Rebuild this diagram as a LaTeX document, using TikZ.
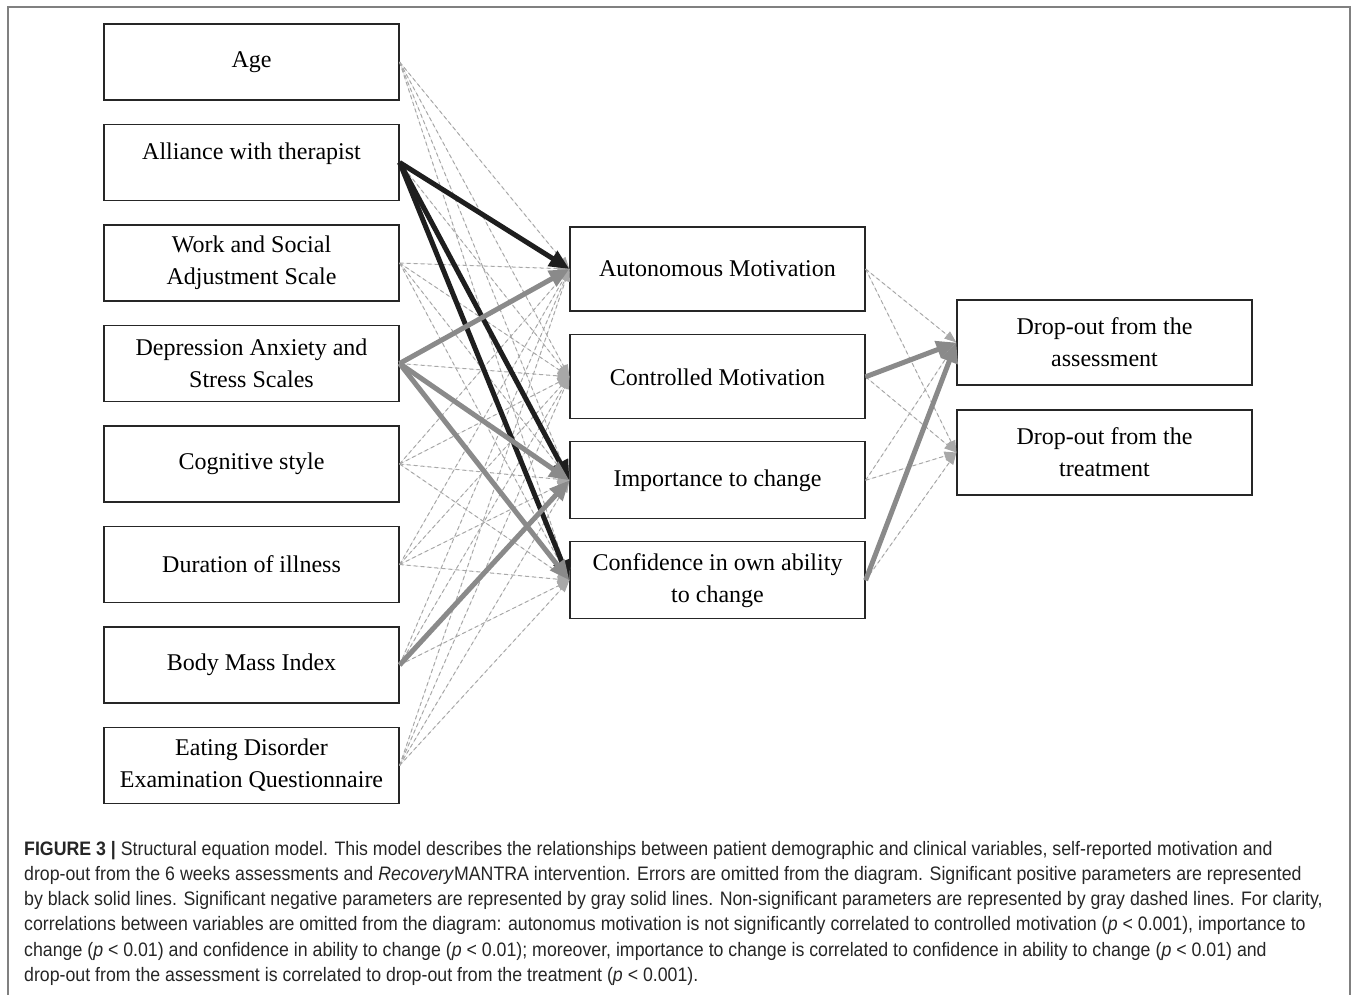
\documentclass[tikz,border=0pt]{standalone}
\usepackage{fontspec}
\setmainfont{Liberation Serif}
\newfontfamily\capfont[FakeStretch=0.91]{Liberation Sans}
\usetikzlibrary{arrows.meta,positioning}
\definecolor{nsgray}{HTML}{A8A8A8}
\definecolor{neggray}{HTML}{8A8A8A}
\definecolor{posblack}{HTML}{1E1E1E}
\tikzset{var box/.style={rectangle,draw=black!85,line width=1.2pt,minimum width=295pt,inner sep=2pt,align=center,font=\fontsize{24}{32}\selectfont},
         left box/.style={var box,minimum height=76pt},
         ns edge/.style={draw=nsgray,line width=1pt,dash pattern=on 4pt off 3pt,-{Triangle[length=12pt,width=9pt]},fill=nsgray},
         pos edge/.style={draw=posblack,line width=5pt,-{Triangle[length=20pt,width=17pt]},fill=posblack},
         neg edge/.style={draw=neggray,line width=5pt,-{Triangle[length=20pt,width=17pt]},fill=neggray}
}
\begin{document}
\begin{tikzpicture}[x=1pt,y=-1pt]
\useasboundingbox (0,0) rectangle (1358,995);
\draw[gray,line width=2pt] (8,995) -- (8,7) -- (1350,7) -- (1350,995);
% predictors
\node [left box] (age) at (251.5,62) {Age};
\node [left box,below=23.3pt of age,text depth=23pt] (alliance) {Alliance with therapist};
\node [left box,below=23.3pt of alliance] (wsas) {Work and Social\\Adjustment Scale};
\node [left box,below=23.3pt of wsas] (dass) {Depression Anxiety and\\Stress Scales};
\node [left box,below=23.3pt of dass] (cogstyle) {Cognitive style};
\node [left box,below=23.3pt of cogstyle] (duration) {Duration of illness};
\node [left box,below=23.3pt of duration] (bmi) {Body Mass Index};
\node [left box,below=23.3pt of bmi] (edeq) {Eating Disorder\\Examination Questionnaire};
% motivation
\node [var box,minimum height=84pt] (autmot) at (717.5,269) {Autonomous Motivation};
\node [var box,minimum height=84pt,below=22.6pt of autmot] (conmot) {Controlled Motivation};
\node [var box,minimum height=77pt,below=21.8pt of conmot] (impch) {Importance to change};
\node [var box,minimum height=77pt,below=21.8pt of impch] (confch) {Confidence in own ability\\to change};
% outcomes
\node [var box,minimum height=85pt] (dropass) at (1104.5,342.5) {Drop-out from the\\assessment};
\node [var box,minimum height=85pt,below=23.8pt of dropass] (droptreat) {Drop-out from the\\treatment};
% non-significant paths
\foreach \src in {age,wsas,cogstyle,duration,edeq}
  \foreach \dst in {autmot,conmot,impch,confch}
    \draw [ns edge] (\src.east) -- (\dst.west);
\foreach \src/\dst in {alliance/conmot,dass/conmot,bmi/autmot,bmi/conmot,bmi/confch}
  \draw [ns edge] (\src.east) -- (\dst.west);
\foreach \src/\dst in {autmot/dropass,autmot/droptreat,conmot/droptreat,impch/dropass,impch/droptreat,confch/droptreat}
  \draw [ns edge] (\src.east) -- (\dst.west);
% significant paths
\foreach \dst in {autmot,impch,confch}
  \draw [pos edge] (alliance.east) -- (\dst.west);
\foreach \dst in {autmot,impch,confch}
  \draw [neg edge] (dass.east) -- (\dst.west);
\draw [neg edge] (bmi.east) -- (impch.west);
\draw [neg edge] (conmot.east) -- (dropass.west);
\draw [neg edge] (confch.east) -- (dropass.west);
% caption
\node [anchor=north west,inner sep=0pt,align=left,text=black!85,font=\capfont\fontsize{19.5}{25.2}\selectfont] (caption) at (24,841)
  {\textbf{FIGURE 3 |} Structural equation model. This model describes the relationships between patient demographic and clinical variables, self-reported motivation and\\
   drop-out from the 6 weeks assessments and \textit{Recovery}MANTRA intervention. Errors are omitted from the diagram. Significant positive parameters are represented\\
   by black solid lines. Significant negative parameters are represented by gray solid lines. Non-significant parameters are represented by gray dashed lines. For clarity,\\
   correlations between variables are omitted from the diagram: autonomus motivation is not significantly correlated to controlled motivation (\textit{p} < 0.001), importance to\\
   change (\textit{p} < 0.01) and confidence in ability to change (\textit{p} < 0.01); moreover, importance to change is correlated to confidence in ability to change (\textit{p} < 0.01) and\\
   drop-out from the assessment is correlated to drop-out from the treatment (\textit{p} < 0.001).};
\end{tikzpicture}
\end{document}
